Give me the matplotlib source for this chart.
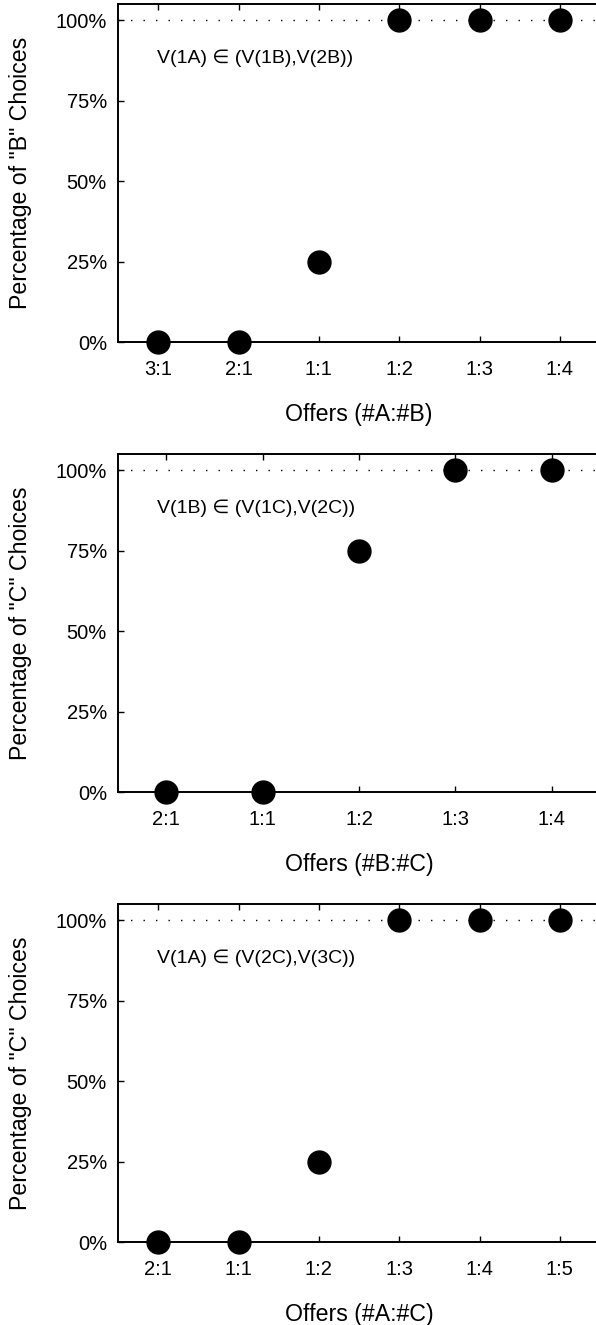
import numpy as np
import matplotlib
matplotlib.use("Agg")
import matplotlib.pyplot as plt

plt.rcParams["font.family"] = ["Liberation Sans", "DejaVu Sans"]

# data
offers_ab = ["3:1", "2:1", "1:1", "1:2", "1:3", "1:4"]
pct_b = [0.0, 0.0, 0.25, 1.0, 1.0, 1.0]

offers_bc = ["2:1", "1:1", "1:2", "1:3", "1:4"]
pct_c1 = [0.0, 0.0, 0.75, 1.0, 1.0]

offers_ac = ["2:1", "1:1", "1:2", "1:3", "1:4", "1:5"]
pct_c2 = [0.0, 0.0, 0.25, 1.0, 1.0, 1.0]

ylabels = ['Percentage of "B" Choices', 'Percentage of "C" Choices', 'Percentage of "C" Choices']
xlabels = ["Offers (#A:#B)", "Offers (#B:#C)", "Offers (#A:#C)"]
notes = ["V(1A) \u2208 (V(1B),V(2B))", "V(1B) \u2208 (V(1C),V(2C))", "V(1A) \u2208 (V(2C),V(3C))"]

W, H = 596, 1325
fig = plt.figure(figsize=(W/100, H/100), dpi=100)

bottoms = [342, 792, 1242]
panels = [(offers_ab, pct_b), (offers_bc, pct_c1), (offers_ac, pct_c2)]

for k, (cats, vals) in enumerate(panels):
  left = 118/W
  width = (600-118)/W
  bot = 1-bottoms[k]/H
  ax = fig.add_axes([left, bot, width, 338/H])
  x = np.arange(len(cats))
  ax.set_xlim(-0.5, len(cats)-0.5)
  ax.set_ylim(0, 1.05)
  ax.axhline(1.0, color="black", lw=1.0, dashes=(1, 8), zorder=1)
  ax.plot(x, vals, "o", color="black", ms=16.5, clip_on=False, zorder=5)
  ax.set_xticks(x)
  ax.set_xticklabels(cats)
  ax.set_yticks([0, 0.25, 0.5, 0.75, 1.0])
  ax.set_yticklabels(["0%", "25%", "50%", "75%", "100%"])
  ax.spines["right"].set_visible(False)
  for s in ["left", "bottom", "top"]:
    ax.spines[s].set_linewidth(1.4)
  ax.tick_params(axis="x", direction="in", top=True, length=4, width=1, labelsize=14.5, pad=13)
  ax.tick_params(axis="y", direction="in", length=4, width=1, labelsize=14.5, pad=8)
  ax.set_ylabel(ylabels[k], fontsize=16.7)
  ax.yaxis.set_label_coords(-0.178, 0.5)
  ax.set_xlabel(xlabels[k], fontsize=16.7)
  ax.xaxis.set_label_coords(0.5, -0.18)
  ax.text(0.08, 0.84, notes[k], transform=ax.transAxes, fontsize=14, va="center", ha="left")

fig.savefig("out.png", dpi=100)
